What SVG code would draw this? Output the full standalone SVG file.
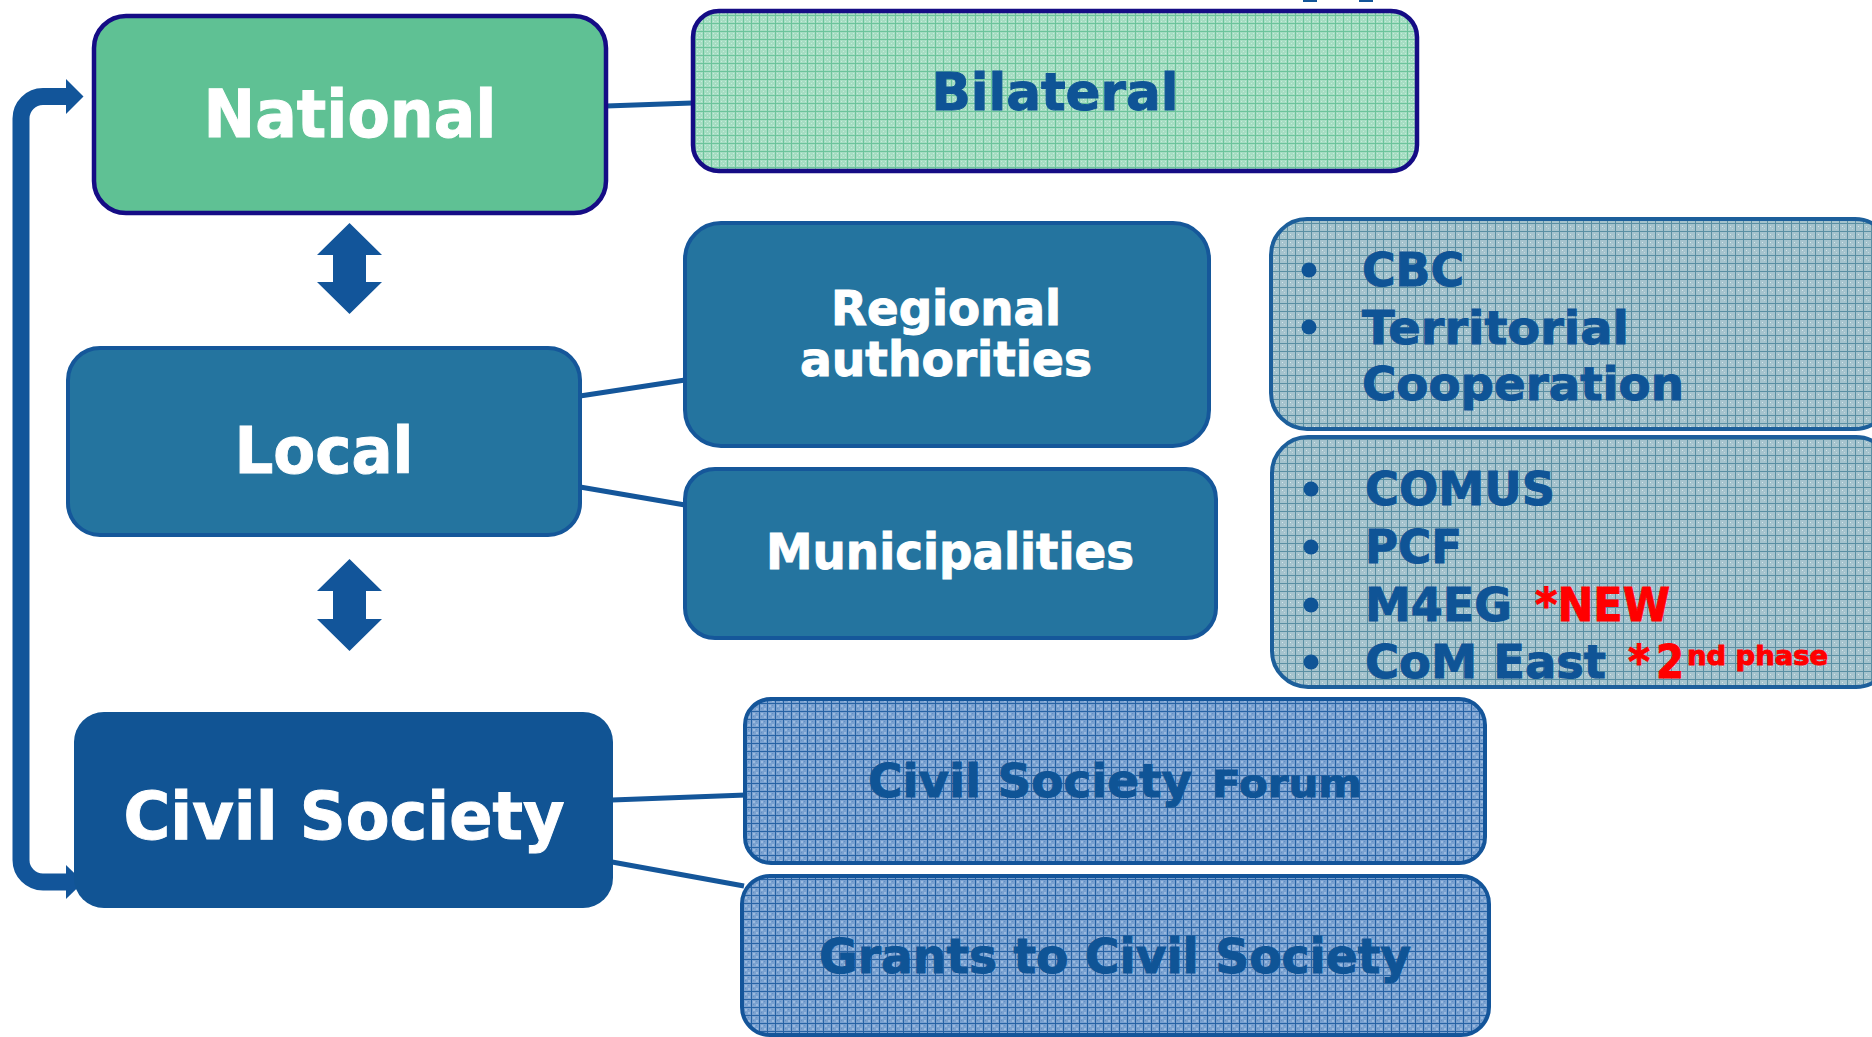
<svg xmlns="http://www.w3.org/2000/svg" width="1872" height="1037" viewBox="0 0 1872 1037">
<style>
  text { font-family: "DejaVu Sans", "Liberation Sans", sans-serif; font-weight: bold; stroke-width: 1; }
  .white { fill: #ffffff; stroke: #ffffff; }
  .dark { fill: #0f5496; stroke: #0f5496; }
  .red { fill: #ff0000; stroke: #ff0000; }
  .conn { stroke: #14569a; stroke-width: 5; fill: none; }
  .arrow { fill: #12559a; }
  .bullet { fill: #0f5496; }
</style>
<defs>
  <pattern id="pGreen" width="8" height="8" patternUnits="userSpaceOnUse">
    <rect width="8" height="8" fill="#a6ddc3"/>
    <rect x="1" y="1" width="1" height="1" fill="#c6eddb"/>
    <rect x="3" y="3" width="1" height="1" fill="#c6eddb"/>
    <rect x="5" y="1" width="1" height="1" fill="#c6eddb"/>
    <rect x="1" y="5" width="1" height="1" fill="#c6eddb"/>
    <rect x="5" y="5" width="1" height="1" fill="#c6eddb"/>
    <rect x="7" y="0" width="1" height="8" fill="#6cc49c"/>
    <rect x="0" y="7" width="8" height="1" fill="#6cc49c"/>
  </pattern>
  <pattern id="pGrey" width="8" height="8" patternUnits="userSpaceOnUse">
    <rect width="8" height="8" fill="#a5c3cd"/>
    <rect x="2" y="2" width="1" height="1" fill="#d6e6ea"/>
    <rect x="4" y="4" width="1" height="1" fill="#c3d8df"/>
    <rect x="7" y="0" width="1" height="8" fill="#5a8fa3"/>
    <rect x="0" y="7" width="8" height="1" fill="#5a8fa3"/>
  </pattern>
  <pattern id="pBlue" width="8" height="8" patternUnits="userSpaceOnUse">
    <rect width="8" height="8" fill="#7aa1d0"/>
    <rect x="1" y="1" width="2" height="2" fill="#9bbadf"/>
    <rect x="4" y="4" width="2" height="2" fill="#9bbadf"/>
    <rect x="4" y="1" width="1" height="1" fill="#6390c5"/>
    <rect x="1" y="4" width="1" height="1" fill="#6390c5"/>
    <rect x="7" y="0" width="1" height="8" fill="#2763a5"/>
    <rect x="0" y="7" width="8" height="1" fill="#2763a5"/>
  </pattern>
</defs>

<rect width="1872" height="1037" fill="#ffffff"/>

<!-- partial title fragment at top edge -->
<rect x="1303" y="0" width="14" height="2" fill="#12559a"/>
<rect x="1359" y="0" width="14" height="2" fill="#12559a"/>

<g id="connectors">
  <line class="conn" x1="606" y1="106" x2="692" y2="103"/>
  <line class="conn" x1="580" y1="396" x2="685" y2="380"/>
  <line class="conn" x1="580" y1="487" x2="685" y2="505"/>
  <line class="conn" x1="612" y1="800" x2="746" y2="795"/>
  <line class="conn" x1="612" y1="862" x2="744" y2="886"/>
  <polygon class="arrow" points="349.5,223 382,255 366,255 366,282 382,282 349.5,314 317,282 333,282 333,255 317,255"/>
  <polygon class="arrow" points="349.5,559 382,591 366,591 366,619 382,619 349.5,651 317,619 333,619 333,591 317,591"/>
  <path d="M 67 96.5 H 43 A 22 22 0 0 0 21 118.5 V 860 A 22 22 0 0 0 43 882 H 67" stroke="#12559a" stroke-width="17" fill="none"/>
  <polygon class="arrow" points="66,79 83.5,96.5 66,114"/>
  <polygon class="arrow" points="66,865 83.5,882 66,899"/>
</g>

<g id="national">
  <rect x="94" y="16" width="512" height="197" rx="32" fill="#5fc194" stroke="#150c85" stroke-width="4.5"/>
  <text class="white" x="350" y="137" font-size="66" text-anchor="middle" textLength="293" lengthAdjust="spacingAndGlyphs">National</text>
</g>

<g id="bilateral">
  <rect x="693" y="11" width="724" height="160" rx="26" fill="url(#pGreen)" stroke="#150c85" stroke-width="4.5"/>
  <text class="dark" x="1055" y="110" font-size="52" text-anchor="middle" textLength="247" lengthAdjust="spacingAndGlyphs">Bilateral</text>
</g>

<g id="local">
  <rect x="68" y="348" width="512" height="187" rx="32" fill="#24749f" stroke="#15579a" stroke-width="4"/>
  <text class="white" x="324" y="473" font-size="64" text-anchor="middle" textLength="179" lengthAdjust="spacingAndGlyphs">Local</text>
</g>

<g id="regional">
  <rect x="685" y="223" width="524" height="223" rx="36" fill="#24749f" stroke="#15579a" stroke-width="4"/>
  <text class="white" x="946" y="325" font-size="48" text-anchor="middle" textLength="230" lengthAdjust="spacingAndGlyphs">Regional</text>
  <text class="white" x="946" y="376" font-size="48" text-anchor="middle" textLength="292" lengthAdjust="spacingAndGlyphs">authorities</text>
</g>

<g id="municipalities">
  <rect x="685" y="469" width="531" height="169" rx="30" fill="#24749f" stroke="#15579a" stroke-width="4"/>
  <text class="white" x="950" y="569" font-size="49" text-anchor="middle" textLength="368" lengthAdjust="spacingAndGlyphs">Municipalities</text>
</g>

<g id="civil-society">
  <rect x="74" y="712" width="539" height="196" rx="30" fill="#115494"/>
  <text class="white" x="344" y="839" font-size="65" text-anchor="middle" textLength="441" lengthAdjust="spacingAndGlyphs">Civil Society</text>
</g>

<g id="cbc">
  <rect x="1271" y="219" width="620" height="210" rx="36" fill="url(#pGrey)" stroke="#1d5f9b" stroke-width="4"/>
  <circle class="bullet" cx="1309" cy="270" r="7.5"/>
  <circle class="bullet" cx="1309" cy="327" r="7.5"/>
  <text class="dark" x="1362" y="286" font-size="47" textLength="102" lengthAdjust="spacingAndGlyphs">CBC</text>
  <text class="dark" x="1362" y="344" font-size="47" textLength="267" lengthAdjust="spacingAndGlyphs">Territorial</text>
  <text class="dark" x="1362" y="400" font-size="47" textLength="322" lengthAdjust="spacingAndGlyphs">Cooperation</text>
</g>

<g id="comus">
  <rect x="1272" y="437" width="620" height="250" rx="36" fill="url(#pGrey)" stroke="#1d5f9b" stroke-width="4"/>
  <circle class="bullet" cx="1311" cy="489" r="7.5"/>
  <circle class="bullet" cx="1311" cy="547" r="7.5"/>
  <circle class="bullet" cx="1311" cy="605" r="7.5"/>
  <circle class="bullet" cx="1311" cy="662" r="7.5"/>
  <text class="dark" x="1365" y="505" font-size="47" textLength="190" lengthAdjust="spacingAndGlyphs">COMUS</text>
  <text class="dark" x="1365" y="563" font-size="47" textLength="97" lengthAdjust="spacingAndGlyphs">PCF</text>
  <text x="1365" y="621" font-size="47"><tspan class="dark" textLength="147" lengthAdjust="spacingAndGlyphs">M4EG</tspan><tspan class="red" x="1535" textLength="135" lengthAdjust="spacingAndGlyphs">*NEW</tspan></text>
  <text x="1365" y="678" font-size="47"><tspan class="dark" textLength="241" lengthAdjust="spacingAndGlyphs">CoM East</tspan><tspan class="red" x="1628" textLength="22" lengthAdjust="spacingAndGlyphs">*</tspan><tspan class="red" x="1656" font-size="46" textLength="28" lengthAdjust="spacingAndGlyphs">2</tspan><tspan class="red" x="1687" y="665" font-size="27" textLength="141" lengthAdjust="spacingAndGlyphs">nd phase</tspan></text>
</g>

<g id="csf">
  <rect x="745" y="699" width="740" height="164" rx="26" fill="url(#pBlue)" stroke="#14559a" stroke-width="4"/>
  <text class="dark" x="868" y="797" font-size="47"><tspan textLength="324" lengthAdjust="spacingAndGlyphs">Civil Society</tspan><tspan x="1212" font-size="37" textLength="150" lengthAdjust="spacingAndGlyphs">Forum</tspan></text>
</g>

<g id="grants">
  <rect x="742" y="876" width="747" height="159" rx="28" fill="url(#pBlue)" stroke="#14559a" stroke-width="4"/>
  <text class="dark" x="1115" y="973" font-size="48" text-anchor="middle" textLength="592" lengthAdjust="spacingAndGlyphs">Grants to Civil Society</text>
</g>
</svg>
